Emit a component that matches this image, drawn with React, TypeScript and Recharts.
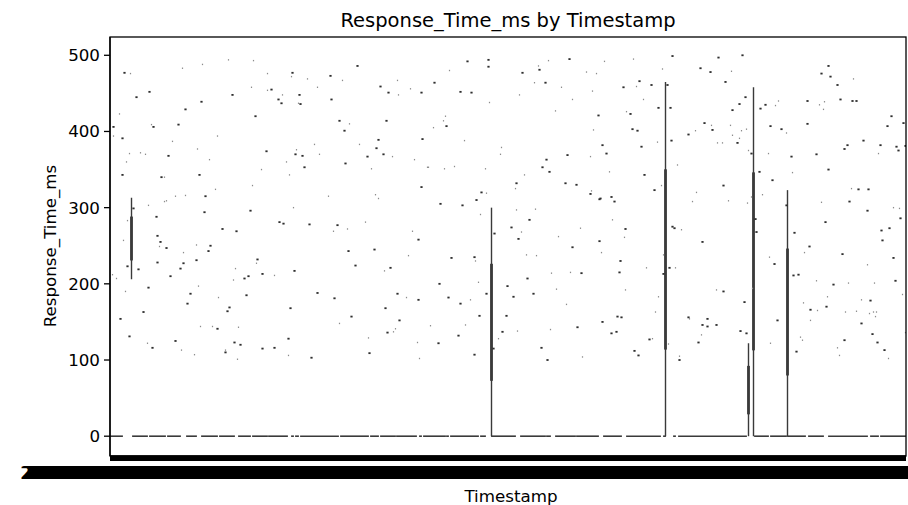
import React from 'react';
import { ComposedChart, XAxis, YAxis, Scatter, ReferenceLine, ReferenceArea } from 'recharts';

// ---- categories (timestamps) ----
const N_CATEGORIES = 796;
const START_MS = Date.UTC(2023, 0, 1, 0, 0, 0);
const STEP_MS = 3600 * 1000;
const pad = (n: number) => String(n).padStart(2, '0');
const timestampLabels: string[] = Array.from({ length: N_CATEGORIES }, (_, i) => {
  const d = new Date(START_MS + i * STEP_MS);
  return `${d.getUTCFullYear()}-${pad(d.getUTCMonth() + 1)}-${pad(d.getUTCDate())} ${pad(d.getUTCHours())}:${pad(d.getUTCMinutes())}:${pad(d.getUTCSeconds())}`;
});
const categoryTicks: number[] = timestampLabels.map((_, i) => i);
const yTicks = [0, 100, 200, 300, 400, 500];

// ---- single-value categories: [category index, Response_Time_ms] ----
const valuesStrong: [number, number][] = [
  [14,477],[39,452],[26,445],[122,448],[91,439],[75,429],[145,420],[3,406],[43,406],[68,409],[12,391],[156,374],[58,368],[12,343],[89,343],[51,340],[95,315],[23,299],[94,294],[140,296],[46,288],[112,272],[126,269],[47,263],[50,255],[56,247],[100,250],[98,243],[147,232],[86,231],[47,228],[73,227],[70,220],[17,223],[28,219],[60,210],[138,210],[134,207],[152,213],[38,195],[80,187],[136,185],[77,174],[119,169],[117,164],[33,163],[10,154],[107,141],[19,131],[65,125],[124,123],[130,120],[42,116],[152,115],[115,110],
  [247,486],[182,477],[220,473],[161,455],[270,459],[311,451],[278,451],[189,448],[168,442],[171,437],[190,436],[221,442],[229,414],[276,414],[234,401],[268,389],[312,390],[185,370],[192,368],[266,378],[257,367],[273,370],[194,353],[235,358],[311,327],[169,281],[173,279],[199,278],[227,277],[308,258],[238,243],[264,245],[245,224],[184,217],[280,221],[207,188],[224,181],[287,187],[308,179],[180,168],[275,168],[241,157],[289,152],[277,136],[178,128],[164,116],[259,109],[201,103],
  [357,492],[378,494],[378,485],[459,495],[429,481],[412,477],[324,464],[350,452],[361,451],[435,464],[336,407],[436,363],[432,353],[439,347],[457,369],[406,332],[455,332],[466,330],[371,320],[366,310],[330,305],[352,303],[419,284],[384,266],[401,274],[408,259],[462,248],[341,234],[364,235],[471,214],[417,207],[329,200],[397,197],[376,187],[423,187],[403,183],[338,182],[350,174],[369,158],[396,158],[392,137],[467,143],[348,132],[328,122],[383,115],[431,116],[364,107],[437,100],
  [562,499],[608,497],[632,500],[590,483],[600,478],[529,466],[513,458],[541,461],[557,461],[615,465],[635,445],[548,431],[560,431],[629,436],[622,428],[488,421],[520,423],[522,403],[527,401],[594,411],[602,402],[578,396],[492,382],[496,371],[531,380],[561,388],[627,385],[534,343],[544,323],[613,329],[480,318],[489,311],[490,312],[501,314],[504,308],[515,272],[562,275],[564,273],[489,256],[592,255],[510,230],[509,215],[559,221],[553,213],[613,190],[634,176],[507,157],[511,156],[578,156],[597,154],[592,146],[597,144],[606,146],[492,150],[630,138],[636,135],[501,135],[506,137],[539,127],[588,123],[524,112],[528,106],[569,100],
  [645,285],[646,268],[641,371],[718,486],[711,476],[720,472],[727,461],[650,430],[655,435],[697,440],[730,442],[742,440],[746,440],[660,407],[671,403],[697,410],[777,407],[781,420],[793,411],[681,367],[706,370],[734,377],[737,382],[753,388],[770,382],[786,380],[788,375],[795,381],[649,347],[718,350],[662,336],[748,324],[758,324],[739,308],[676,303],[757,296],[790,286],[715,281],[684,267],[771,270],[779,273],[772,257],[699,249],[664,226],[732,239],[783,234],[683,211],[688,212],[723,199],[785,204],[760,178],[700,166],[716,170],[751,148],[667,152],[762,134],[767,123],[734,126],[686,111],[774,113],
];

const valuesFaint: [number, number][] = [
  [20,476],[72,483],[92,488],[118,494],[143,493],[157,476],[141,458],[157,454],[9,423],[41,409],[3,394],[107,394],[62,387],[87,377],[19,371],[30,372],[35,370],[99,363],[16,360],[151,350],[54,340],[142,329],[105,324],[65,315],[75,316],[54,308],[56,309],[38,303],[17,283],[13,257],[49,249],[86,251],[73,241],[146,227],[125,220],[2,212],[6,207],[123,205],[88,197],[15,190],[108,182],[90,144],[102,144],[128,143],[37,122],[71,113],[115,113],[84,107],[127,101],
  [181,472],[197,469],[232,467],[287,467],[207,458],[300,456],[288,448],[172,448],[188,437],[239,410],[204,383],[249,383],[186,376],[209,370],[282,367],[304,363],[176,360],[261,351],[317,353],[179,343],[218,315],[265,317],[268,312],[183,300],[223,269],[237,272],[255,281],[302,269],[298,237],[274,217],[164,211],[296,182],[229,148],[283,137],[285,141],[258,129],[307,123],[178,106],[309,102],
  [339,480],[438,493],[428,486],[476,478],[379,438],[424,464],[451,458],[409,448],[462,442],[445,427],[335,420],[333,414],[323,405],[354,388],[391,379],[390,370],[318,353],[334,351],[344,354],[375,351],[414,343],[405,325],[376,319],[370,291],[406,297],[425,298],[411,268],[448,262],[470,273],[416,238],[426,237],[365,230],[441,214],[460,215],[368,202],[446,193],[360,179],[456,173],[320,145],[355,146],[407,138],[440,140],[388,128],[472,104],
  [494,492],[523,495],[552,482],[486,476],[621,479],[526,459],[482,453],[533,442],[516,426],[483,402],[601,408],[585,401],[620,408],[631,401],[636,403],[547,386],[607,385],[612,385],[629,391],[622,395],[480,367],[567,356],[499,347],[551,329],[481,322],[582,308],[586,320],[618,309],[637,306],[502,284],[571,271],[514,261],[491,241],[536,221],[565,221],[553,238],[515,192],[548,183],[606,192],[545,163],[579,154],[591,133],[542,128],[558,121],[569,105],
  [642,194],[638,375],[641,314],[743,469],[665,434],[668,440],[709,435],[714,439],[713,429],[676,398],[658,371],[768,371],[682,346],[652,317],[741,325],[711,307],[783,300],[789,299],[694,241],[659,235],[757,225],[706,204],[738,201],[764,201],[792,186],[717,183],[693,175],[751,179],[707,165],[735,163],[746,164],[759,161],[763,163],[766,163],[765,157],[700,152],[795,136],[660,122],[690,130],[692,126],[727,116],[729,106],[778,102],
];

// ---- runs of consecutive categories whose value is 0: [first index, last index] ----
const zeroRuns: [number, number][] = [
  [0,12],[22,37],[39,55],[57,70],[76,86],[91,107],[109,124],[128,140],[142,157],[158,177],[181,183],[185,188],
  [190,228],[230,258],[260,268],[270,285],[286,306],[309,311],[313,335],[336,338],[340,368],[370,375],
  [381,405],[410,435],[436,440],[445,465],[466,488],[493,511],[516,550],[553,555],[563,565],[568,636],
  [644,658],[660,676],[677,695],[698,713],[718,757],[760,768],[770,795],
];

// ---- categories with several values (box + whiskers) ----
const boxIndex = [21, 381, 555, 638, 643, 677];
const boxWhiskerLow = [206, 0, 0, 0, 0, 0];
const boxQ1 = [232, 74, 115, 30, 114, 81];
const boxQ3 = [287, 225, 349, 91, 345, 245];
const boxWhiskerHigh = [313, 300, 465, 122, 458, 323];

const FONT = 'DejaVu Sans';
const INK = '#3a3a3a';

const strongData = valuesStrong.map(([x, y]) => ({ x, y }));
const faintData = valuesFaint.map(([x, y]) => ({ x, y }));

const StrongMark = (p: any) => (
  <rect x={p.cx - 1.1} y={p.cy - 0.9} width={2.2} height={1.8} fill="#2e2e2e" />
);
const FaintMark = (p: any) => (
  <rect x={p.cx - 0.6} y={p.cy - 0.7} width={1.2} height={1.4} fill="#8c8c8c" />
);

const XTick = (p: any) => (
  <text x={p.x} y={p.y} dy={16} textAnchor="middle" fontSize={17} fontFamily={FONT} fill="#000">
    {timestampLabels[p.payload.value]}
  </text>
);

export default function App() {
  return (
    <div style={{ position: 'absolute', left: 0, top: 0, width: 908, height: 505, background: '#fff', overflow: 'hidden' }}>
      <ComposedChart width={908} height={505} margin={{ top: 37, right: 2, bottom: 19, left: 50 }}>
        <XAxis
          type="number"
          dataKey="x"
          domain={[-0.5, N_CATEGORIES - 0.5]}
          ticks={categoryTicks}
          interval={0}
          tick={<XTick />}
          tickSize={5}
          tickMargin={2}
          height={30}
          stroke="#000"
          axisLine={{ stroke: '#000', strokeWidth: 1.3 }}
          tickLine={{ stroke: '#000', strokeWidth: 1 }}
          allowDataOverflow
        />
        <YAxis
          type="number"
          dataKey="y"
          domain={[-26, 524]}
          ticks={yTicks}
          width={60}
          tickSize={6}
          tickMargin={4}
          allowDataOverflow
          axisLine={{ stroke: '#000', strokeWidth: 1.3 }}
          tickLine={{ stroke: '#000', strokeWidth: 1.3 }}
          tick={{ fill: '#000', fontSize: 16.7, fontFamily: FONT }}
        />
        {zeroRuns.map(([s, e], i) => (
          <ReferenceLine
            key={'z' + i}
            segment={[{ x: s - 0.4, y: 0 }, { x: e + 0.4, y: 0 }]}
            stroke={INK}
            strokeWidth={1.6}
          />
        ))}
        {boxIndex.map((bx, i) => (
          <ReferenceLine
            key={'w' + i}
            segment={[{ x: bx, y: boxWhiskerLow[i] }, { x: bx, y: boxWhiskerHigh[i] }]}
            stroke={INK}
            strokeWidth={1.4}
          />
        ))}
        {boxIndex.map((bx, i) => (
          <ReferenceArea
            key={'b' + i}
            x1={bx - 0.4}
            x2={bx + 0.4}
            y1={boxQ1[i]}
            y2={boxQ3[i]}
            fill={INK}
            fillOpacity={1}
            stroke={INK}
            strokeWidth={2}
          />
        ))}
        <Scatter data={faintData} shape={<FaintMark />} isAnimationActive={false} />
        <Scatter data={strongData} shape={<StrongMark />} isAnimationActive={false} />
      </ComposedChart>
      <svg width={908} height={505} style={{ position: 'absolute', left: 0, top: 0, pointerEvents: 'none' }}>
        <rect x={110} y={37} width={796} height={419} fill="none" stroke="#000" strokeWidth={1.3} />
        <text x={508} y={27} textAnchor="middle" fontSize={19.5} fontFamily={FONT} fill="#000">
          Response_Time_ms by Timestamp
        </text>
        <text x={511} y={502} textAnchor="middle" fontSize={16.7} fontFamily={FONT} fill="#000">
          Timestamp
        </text>
        <text
          x={56}
          y={246}
          textAnchor="middle"
          fontSize={16.7}
          fontFamily={FONT}
          fill="#000"
          transform="rotate(-90 56 246)"
        >
          Response_Time_ms
        </text>
      </svg>
    </div>
  );
}
